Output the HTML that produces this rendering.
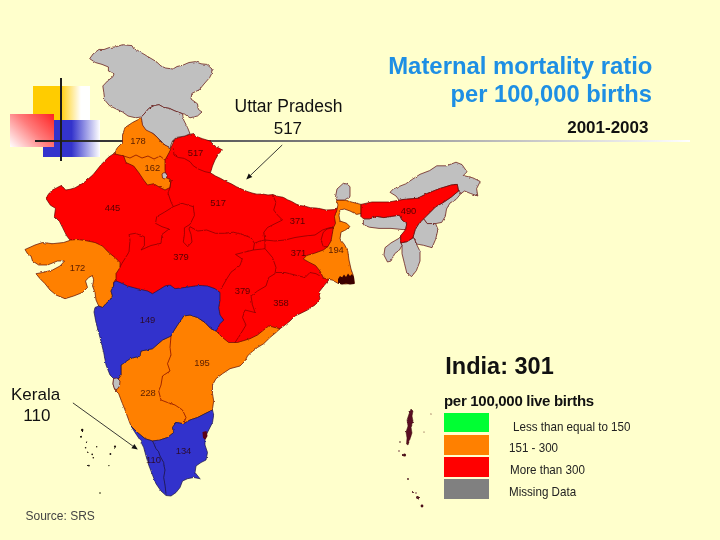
<!DOCTYPE html>
<html><head><meta charset="utf-8"><title>Maternal mortality ratio</title>
<style>
html,body{margin:0;padding:0}
body{width:720px;height:540px;background:#ffffcc;position:relative;overflow:hidden;font-family:"Liberation Sans",Arial,sans-serif;color:#111}
.abs{position:absolute;white-space:nowrap}
#dy{left:33px;top:86px;width:57px;height:34px;background:linear-gradient(90deg,#ffcc00 0%,#ffcc00 47%,#ffffff 84%,#ffffff 100%)}
#db{left:43px;top:120px;width:57px;height:37px;background:linear-gradient(90deg,#3333cc 0%,#3333cc 50%,#ffffff 100%)}
#dr{left:10px;top:114px;width:44px;height:33px;background:linear-gradient(225deg,#ff2222 0%,#ff7c7c 48%,#ffffff 100%)}
#vl{left:60px;top:78px;width:2px;height:83px;background:#1c1c1c}
#hl{left:35px;top:140.1px;width:655px;height:1.7px;background:linear-gradient(90deg,#1c1c1c 0%,#ffffff 100%)}
.sl{font-family:"Liberation Sans",Arial,sans-serif;font-size:9.4px;fill:#2a0000;fill-opacity:.78}
svg{position:absolute;left:0;top:0}
.sw{left:444.2px;width:44.8px;height:19.8px}
</style></head><body>
<div id="dy" class="abs"></div><div id="db" class="abs"></div><div id="dr" class="abs"></div>
<div id="hl" class="abs"></div><div id="vl" class="abs"></div>
<svg width="720" height="540" viewBox="0 0 720 540">
<defs><filter id="jag" x="-2%" y="-2%" width="104%" height="104%"><feTurbulence type="fractalNoise" baseFrequency="0.28" numOctaves="2" seed="7" result="n"/><feDisplacementMap in="SourceGraphic" in2="n" scale="2.2" xChannelSelector="R" yChannelSelector="G"/></filter></defs><g filter="url(#jag)">
<polygon points="113.7,153.7 135,150 150,140 171,147.5 175,138.7 183.7,136 192.5,133.7 195,136 202.5,138.7 210,141 215,146 222.5,150 218.7,153.7 215,160 212.5,166 210.4,172.8 215.5,176 220.8,178.5 226,181.5 231.3,183.8 236.5,186.8 241.7,189 247,191.4 252,193 257,194.2 262.5,194 268,195 273,194.6 278,196.4 283.3,197.3 287.5,199.8 291.7,201.5 296,204 300,205.6 305,206.2 310.4,207.7 316,208 320.8,208.8 326,210 331,209.8 334.5,209.5 337.5,207.7 337.5,215 338,222 336,240 335,270 328,281 323.7,286 318.7,292.5 320,298.7 315,305 307.5,310 300,313.7 295,316 290,321 285,325 280,328.7 262,340 230,350 210,335 190,300 150,300 125,290 112,285 105,262 95,250 80,243 71,240 69.7,239.8 66.7,235.8 62.6,227.6 59.5,221.5 54.4,216.4 55.5,208.3 50.4,205.2 46.3,199 47.5,195.5 49.4,193 52.5,190 56.5,187.9 60.6,185.8 63,187 65.7,190 70,189.3 74.8,187.9 80,185 85,181.8 93.2,174.6 101.3,164.4 108.4,157.3" fill="#ff0000" stroke="#5c0a0a" stroke-width="0.7" stroke-linejoin="round"/>
<polygon points="140,118.7 132.5,122.5 125,127.5 122.5,135 122.5,142.5 117.5,147.5 113.7,153.7 123.7,156 126,162.5 133.7,166 138.7,172.5 143.7,180 147.5,185 153.7,183.7 160,187.5 165,190 170,187.5 171,180 166,177.5 165,170 165,160 170,151 171,147.5 162.5,143.7 157.5,137.5 150,131 143.7,125 141,118.7" fill="#ff8000" stroke="#5c0a0a" stroke-width="0.7" stroke-linejoin="round"/>
<polygon points="71,240 63.7,242.5 52.5,243.7 42.5,242.5 35,245 25,249.5 27.5,253.7 31,256 32.5,261 38.7,265 47.5,265 57.5,261 64.5,261 60,266 52.5,270 42.5,272.5 36,273.7 40,278.7 45,283.7 50,290 56,295 65,298.7 73.7,296 82.5,292.5 87.5,287.5 85.5,281 88.7,277.5 92.5,275.5 93.7,280 92.5,286 95,292.5 96,300 98.7,306 102.5,307.5 106,303.7 110,300 112.5,296 111,291 113.7,286 113.7,282.5 116,278.7 116,273.7 120,267.5 120,262.5 115,257.5 108.7,252.5 102.5,246 95,242.5 85,240.5 77.5,239.5" fill="#ff8000" stroke="#5c0a0a" stroke-width="0.7" stroke-linejoin="round"/>
<polygon points="336.7,200 344.4,200 352.2,202.2 361,204.4 361,216.4 362.2,213.3 356.7,214.4 350,211 344.4,209 340,210 339,215.5 340,221 346.7,223.3 350,226.7 345.5,230 341,232.2 340,239 344.4,244.4 347.8,251 349,260 351,269 353.3,275.5 354.4,283.3 345,284 337.8,283.3 332.2,280 326.7,279 323.3,277.8 320,271 315.5,265.5 309,262.2 303.3,259 306.7,255.5 314.4,253.3 323.3,250 327.8,246.7 331,241 332.2,234.4 333.3,227.8 335.5,223.3 334.4,216.7 336.7,211 337.8,205.5" fill="#ff8000" stroke="#5c0a0a" stroke-width="0.7" stroke-linejoin="round"/>
<polygon points="113.7,378.7 117.5,380 121,375 121,365 130,358.7 140,356 141,351 152.5,348.7 162.5,340 171,336 173.7,331 177.5,325 183.7,316 190,315 197.5,317.5 205,322.5 211,328.7 216,331 222.5,337.5 228.7,342.5 237.5,342.5 242.5,341 250,338.7 257.5,335 263.7,330 268.7,326 275,327.5 280,328.7 276,332.5 270,337.5 263.7,343.7 257.5,347.5 251,352.5 247.5,356 245,361 240,366 230,368.7 222.5,373.7 216,378.7 212.5,385 212.5,393.7 213.7,401 212.5,408.7 212.5,410 205,413.7 197.5,417.5 190,420 183.7,423.7 176,422.5 172.5,427.5 173.7,432.5 167.5,437.5 160,440 152.5,441 145,438.7 137.5,432.5 131,426 128.7,420 125,410 121,400 118.7,393.7 115,390 113,384" fill="#ff8000" stroke="#5c0a0a" stroke-width="0.7" stroke-linejoin="round"/>
<polygon points="116,281 120,282.5 127.5,286 137.5,288.7 147.5,291 152.5,293.7 158.7,290 165,286 170,285 175,288.7 185,287.5 195,286 200,285.5 207.5,286 215,288.7 220,292.5 220,300 218.7,307.5 220,315 223.7,320 220,323.7 217.5,328.7 216,331 211,328.7 205,322.5 197.5,317.5 190,315 183.7,316 177.5,325 173.7,331 171,336 162.5,340 152.5,348.7 141,351 140,356 130,358.7 121,365 121,375 117.5,380 113.7,378.7 110,375 106,365 103.7,352.5 100,337.5 96,322.5 94,312 95,307.5 98.7,306 102.5,307.5 106,303.7 110,300 112.5,296 111,291 113.7,286 113.7,282.5" fill="#3333cc" stroke="#1c1440" stroke-width="0.7" stroke-linejoin="round"/>
<polygon points="131,426 137.5,432.5 145,438.7 152.5,441 160,440 167.5,437.5 173.7,432.5 172.5,427.5 176,422.5 183.7,423.7 190,420 197.5,417.5 205,413.7 212.5,410 213.7,415 212.5,422.5 208.7,430 205,437.5 205,445 207.5,452.5 206,460 201,462.5 196,466 195,472.5 200,478.7 193.7,477.5 187.5,478.7 182.5,481 180,487.5 176,492.5 171,496 166,495.5 161,491 156,483.7 152.5,475 148.7,465 146,456 143.7,447.5 140,440 135,432.5" fill="#3333cc" stroke="#1c1440" stroke-width="0.7" stroke-linejoin="round"/>
<polygon points="89.7,58.7 93,54 99,49.4 104,49.5 109.4,47.5 116,46.8 122.5,44.7 131.9,45.6 134,49 137.5,50.3 146.9,56 156.3,61.6 161,66 165.6,68 173,69 177,66.5 182.5,65.3 189,62.5 195.6,61.6 201,63.8 206.9,64.4 212,69 211.5,74 209.7,77.5 204,84 199.4,89.7 191.9,93.4 191,99 197.5,103.8 198.4,109.4 202,112 197.5,116 190,117.8 184.4,114 182.5,113.7 175,111 169.4,108.4 163.8,107.5 159,104.7 154.4,105.6 148.8,108.4 145,113 141.3,117 135.6,117.8 128,116 122.5,112 117,109.4 109.4,105.6 104.7,100 103.8,92.5 102.8,86 107.5,81 113,76.6 114,73.8 108.4,71 108.4,67 102,64.4 95.3,62.5" fill="#c0c0c0" stroke="#5c0a0a" stroke-width="0.7" stroke-linejoin="round"/>
<polygon points="141.3,117 142.5,125 146,130 153.7,133.7 160,140 165,145 170,147.5 172.5,141 176,137.5 185,136 190,133.7 187.5,127.5 183.7,120 182.5,113.7 175,111 169.4,108.4 163.8,107.5 159,104.7 154.4,105.6 148.8,108.4 145,113" fill="#c0c0c0" stroke="#5c0a0a" stroke-width="0.7" stroke-linejoin="round"/>
<polygon points="162,174 164,172.5 166.5,173.5 167,177 165,179 162.5,178" fill="#c0c0c0" stroke="#5c0a0a" stroke-width="0.7" stroke-linejoin="round"/>
<polygon points="335.5,196.7 337,189 343.3,183.3 347,184 350,186.7 350,196.7 344.4,200 336.7,200" fill="#c0c0c0" stroke="#5c0a0a" stroke-width="0.7" stroke-linejoin="round"/>
<polygon points="113.5,378.5 117,378 120,381 119.5,386 117,389.5 114.5,389 113,384" fill="#c0c0c0" stroke="#5c0a0a" stroke-width="0.7" stroke-linejoin="round"/>
<polygon points="390,192.3 393.5,188.7 405.6,183.9 412.8,179 420,174.3 429.6,170.6 436.8,165.8 446.5,165.8 456,162.2 462,164.6 467,171.8 463.3,175.5 473,177.9 480.2,181.5 476.6,188.7 477.8,196 470.6,193.5 464.5,191 461,193.5 458.5,191 457.3,184.4 451.3,185 439.3,188.7 427.2,193.5 417.6,198.3 403,199.5 399.5,200.7 396,196" fill="#c0c0c0" stroke="#5c0a0a" stroke-width="0.7" stroke-linejoin="round"/>
<polygon points="423.6,218.8 429.6,212.8 435.6,206.8 444,202 451.3,197 458.5,191 461,193.5 456,199.5 450,203 446.5,209 445.3,216.4 441.7,222.4 435.6,223.6 427.2,223.6" fill="#c0c0c0" stroke="#5c0a0a" stroke-width="0.7" stroke-linejoin="round"/>
<polygon points="412.8,238 415.2,229.6 418.8,223.6 423.6,218.8 427.2,223.6 435.6,223.6 438,229.6 435.6,239.3 432,247.7 423.6,245.3 416.4,244 414,238" fill="#c0c0c0" stroke="#5c0a0a" stroke-width="0.7" stroke-linejoin="round"/>
<polygon points="400.7,242.9 406.8,241.7 412.8,238 414,238 416.4,244 420,251.3 420,261 416.4,270.6 411.6,276.6 406.8,273 404.4,263.3 402,253.7 402,245.3" fill="#c0c0c0" stroke="#5c0a0a" stroke-width="0.7" stroke-linejoin="round"/>
<polygon points="400.7,235.6 400.7,242.9 402,245.3 399.5,250 394.7,253.7 391,261 387.5,262 383.9,255 385,247.7 391,242.9 399.5,238" fill="#c0c0c0" stroke="#5c0a0a" stroke-width="0.7" stroke-linejoin="round"/>
<polygon points="363.4,218.8 369.4,218.8 376.7,216.4 383.9,217.6 391,216.4 399.5,215.2 402,220 406.8,223.6 405.6,229.6 403,229.6 391,228.4 379,228.4 369.4,227.2 363.4,224.8" fill="#c0c0c0" stroke="#5c0a0a" stroke-width="0.7" stroke-linejoin="round"/>
<polygon points="361,204.4 371.9,202 388.7,202 403,199.5 417.6,198.3 427.2,193.5 439.3,188.7 451.3,185 457.3,184.4 458.5,191 451.3,197 444,202 435.6,206.8 429.6,212.8 423.6,218.8 418.8,223.6 415.2,229.6 412.8,238 406.8,241.7 400.7,242.9 400.7,235.6 405.6,229.6 406.8,223.6 402,220 399.5,215.2 391,216.4 383.9,217.6 376.7,216.4 369.4,218.8 363.4,218.8 361,216.4" fill="#ff0000" stroke="#5c0a0a" stroke-width="0.7" stroke-linejoin="round"/>
<polyline points="173.3,148.3 174,155 178.3,157.5 184,158.3 190,161.7 193.3,165.8 198.3,169 205,171.7 210.4,172.8" fill="none" stroke="#7a0000" stroke-width="0.7" stroke-linejoin="round"/>
<polyline points="171,180 170,187.5 168,193 171,202 173.3,206.7" fill="none" stroke="#7a0000" stroke-width="0.7" stroke-linejoin="round"/>
<polyline points="173.3,206.7 164.4,212.2 156.7,216.7 155.5,223.3 162,226.7 169,229 162,234.4 161,243.3 151,245.5 141,250 144.4,245.5 144.4,236.7 135.5,233.3 129,234.4 130,240 129,252 122,263.3 120,267" fill="none" stroke="#7a0000" stroke-width="0.7" stroke-linejoin="round"/>
<polyline points="173.3,206.7 182,203.3 193.3,206.7 194.4,215.5 190,224.4 184.4,227.8 184.4,234.4 183.3,242 187.8,246.7 192,242 191,234.4 189,229 190,226.7" fill="none" stroke="#7a0000" stroke-width="0.7" stroke-linejoin="round"/>
<polyline points="190,226.7 197.8,231 206.7,230 215.5,233.3 224.4,233.3 233.3,232.2 242.2,234.4 251,237.8 254.4,243.3 253.3,250" fill="none" stroke="#7a0000" stroke-width="0.7" stroke-linejoin="round"/>
<polyline points="253.3,250 244.4,252.2 235.5,254.4 242.2,259 240,265.5 231,272.2 226.7,279 221,289" fill="none" stroke="#7a0000" stroke-width="0.7" stroke-linejoin="round"/>
<polyline points="272.5,194.5 276,202.5 273.7,210 277.5,215 282.5,220 275,223.7 267.5,227.5 263.7,232.5 265,240" fill="none" stroke="#7a0000" stroke-width="0.7" stroke-linejoin="round"/>
<polyline points="254.4,243.3 260,241 265,240 265,248.7" fill="none" stroke="#7a0000" stroke-width="0.7" stroke-linejoin="round"/>
<polyline points="265,240 275,241 285,240 295,237.5 305,236 315,235 322.5,230 330,227.5 333.7,227.5" fill="none" stroke="#7a0000" stroke-width="0.7" stroke-linejoin="round"/>
<polyline points="253.3,250 265,248.7 272.5,257.5 276,267.5 275,273.7 268.7,277.5 266,286 257.5,291 251,296 252.5,305 255,312.5 245,310 242.5,317.5 246,325 240,335 235,342.5" fill="none" stroke="#7a0000" stroke-width="0.7" stroke-linejoin="round"/>
<polyline points="276,272.5 285,272.5 295,275 305,277.5 310,272.5 316,273.7 320,276" fill="none" stroke="#7a0000" stroke-width="0.7" stroke-linejoin="round"/>
<polyline points="171,336 170,347.5 171,355 167.5,363.7 170,371 162.5,376 161,385 158.7,391 161,400 167.5,402.5 175,405 182.5,410 186,417.5 183.7,423.7" fill="none" stroke="#7a0000" stroke-width="0.7" stroke-linejoin="round"/>
<polyline points="333.3,227.8 327,229 323.3,232.2 321,240 323.3,246.7 327.8,246.7" fill="none" stroke="#7a0000" stroke-width="0.7" stroke-linejoin="round"/>
<polyline points="123.7,156 130,158 136,155 142,158 148,156 154,159 160,156 165,160" fill="none" stroke="#7a0000" stroke-width="0.7" stroke-linejoin="round"/>
<polyline points="152.5,441 154,444 156,448.7 158.5,451.5 160,456 163.7,462.5 164,466 165,470 163.7,477.5 165,485 166,493.7" fill="none" stroke="#1c1440" stroke-width="0.8"/>
<polygon points="338,279 340,276 342,277.5 344,274.5 346,277 348,273.5 350,276 352,274 354,277 354.5,284 350,284.5 346,283.5 342,284.5 338,283.5" fill="#3a0505"/>
<polygon points="202.5,432 206.5,431 207.5,436 205.5,439.5 203,438" fill="#5a0012"/>
<polygon points="411,409 413,411 412,416 413,421 411,427 412,433 410,439 408,445 406.5,444 407,438 406,432 408,426 407,420 409,414" fill="#5a1020" stroke="#3a0a10" stroke-width="0.5"/>
<circle cx="82.2" cy="430" r="1.2" fill="#1a1008"/>
<circle cx="81" cy="436.7" r="1" fill="#1a1008"/>
<circle cx="86.7" cy="442.2" r="0.8" fill="#1a1008"/>
<circle cx="85.6" cy="447.8" r="0.8" fill="#1a1008"/>
<circle cx="96.7" cy="446.7" r="0.7" fill="#1a1008"/>
<circle cx="87.8" cy="452.2" r="0.8" fill="#1a1008"/>
<circle cx="92.2" cy="454.4" r="0.8" fill="#1a1008"/>
<circle cx="93.3" cy="457.8" r="0.8" fill="#1a1008"/>
<circle cx="115" cy="446.7" r="1.1" fill="#1a1008"/>
<circle cx="110.4" cy="454" r="0.9" fill="#1a1008"/>
<circle cx="88.9" cy="465.6" r="0.9" fill="#1a1008"/>
<circle cx="108.9" cy="465.6" r="0.7" fill="#1a1008"/>
<circle cx="100" cy="493" r="0.8" fill="#1a1008"/>
<circle cx="404.5" cy="455" r="1.6" fill="#4a1018"/>
<circle cx="400" cy="442" r="0.8" fill="#4a1018"/>
<circle cx="399" cy="451" r="0.7" fill="#4a1018"/>
<circle cx="408" cy="479" r="0.9" fill="#4a1018"/>
<circle cx="413" cy="492" r="1.1" fill="#4a1018"/>
<circle cx="417.5" cy="497.5" r="1.4" fill="#4a1018"/>
<circle cx="416" cy="493" r="0.7" fill="#4a1018"/>
<circle cx="422" cy="506" r="1.4" fill="#4a1018"/>
<circle cx="431" cy="414" r="0.5" fill="#4a1018"/>
<circle cx="424" cy="432" r="0.5" fill="#4a1018"/>
</g>
<text x="138" y="144.10000000000002" text-anchor="middle" class="sl">178</text>
<text x="152.3" y="170.60000000000002" text-anchor="middle" class="sl">162</text>
<text x="195.5" y="155.5" text-anchor="middle" class="sl">517</text>
<text x="218.2" y="206.3" text-anchor="middle" class="sl">517</text>
<text x="112.5" y="211.3" text-anchor="middle" class="sl">445</text>
<text x="297.5" y="224.3" text-anchor="middle" class="sl">371</text>
<text x="298.5" y="256.3" text-anchor="middle" class="sl">371</text>
<text x="336" y="252.8" text-anchor="middle" class="sl">194</text>
<text x="181" y="260.3" text-anchor="middle" class="sl">379</text>
<text x="77.5" y="271.3" text-anchor="middle" class="sl">172</text>
<text x="408.5" y="214.0" text-anchor="middle" class="sl">490</text>
<text x="242.5" y="293.8" text-anchor="middle" class="sl">379</text>
<text x="281" y="306.3" text-anchor="middle" class="sl">358</text>
<text x="147.5" y="322.8" text-anchor="middle" class="sl">149</text>
<text x="202" y="366.3" text-anchor="middle" class="sl">195</text>
<text x="148" y="396.3" text-anchor="middle" class="sl">228</text>
<text x="183.5" y="453.8" text-anchor="middle" class="sl">134</text>
<text x="153.5" y="463.3" text-anchor="middle" class="sl">110</text>
<line x1="282.2" y1="145" x2="250.5" y2="175.3" stroke="#222" stroke-width="0.9"/>
<polygon points="246.2,179.4 248.7,173.4 252.3,177.1" fill="#111"/>
<line x1="72.9" y1="402.9" x2="132.9" y2="446.1" stroke="#222" stroke-width="0.9"/>
<polygon points="137.8,449.6 131.4,448.2 134.4,444.0" fill="#111"/>
</svg>
<div class="abs" style="right:67.6px;top:54.1px;font-size:23.9px;line-height:1;color:#1e8fe4;font-weight:bold">Maternal mortality ratio</div>
<div class="abs" style="right:68px;top:82.9px;font-size:23.7px;line-height:1;color:#1e8fe4;font-weight:bold">per 100,000 births</div>
<div class="abs" style="right:71.5px;top:118.8px;font-size:17px;line-height:1;font-weight:bold">2001-2003</div>
<div class="abs" style="left:234.5px;top:98.1px;font-size:17.5px;line-height:1;">Uttar Pradesh</div>
<div class="abs" style="left:273.7px;top:119.5px;font-size:17px;line-height:1;">517</div>
<div class="abs" style="left:11px;top:385.6px;font-size:17px;line-height:1;">Kerala</div>
<div class="abs" style="left:23.3px;top:407.2px;font-size:17px;line-height:1;">110</div>
<div class="abs" style="left:25.5px;top:509.6px;font-size:12px;line-height:1;color:#444">Source: SRS</div>
<div class="abs" style="left:445.3px;top:354.6px;font-size:23.5px;line-height:1;font-weight:bold">India: 301</div>
<div class="abs" style="left:444px;top:393.3px;font-size:15px;line-height:1;font-weight:bold;letter-spacing:-0.3px">per 100,000 live births</div>
<div class="abs sw" style="top:412.7px;background:#00ff33"></div>
<div class="abs sw" style="top:435.2px;background:#ff8000"></div>
<div class="abs sw" style="top:457px;background:#ff0000"></div>
<div class="abs sw" style="top:479.4px;background:#808080"></div>
<div class="abs" style="left:513px;top:420.0px;font-size:13px;line-height:1;color:#222;transform:scaleX(0.893);transform-origin:0 0">Less than equal to 150</div>
<div class="abs" style="left:508.5px;top:440.5px;font-size:13px;line-height:1;color:#222;transform:scaleX(0.893);transform-origin:0 0">151 - 300</div>
<div class="abs" style="left:509.5px;top:463.4px;font-size:13px;line-height:1;color:#222;transform:scaleX(0.893);transform-origin:0 0">More than 300</div>
<div class="abs" style="left:509px;top:484.8px;font-size:13px;line-height:1;color:#222;transform:scaleX(0.893);transform-origin:0 0">Missing Data</div>
</body></html>
